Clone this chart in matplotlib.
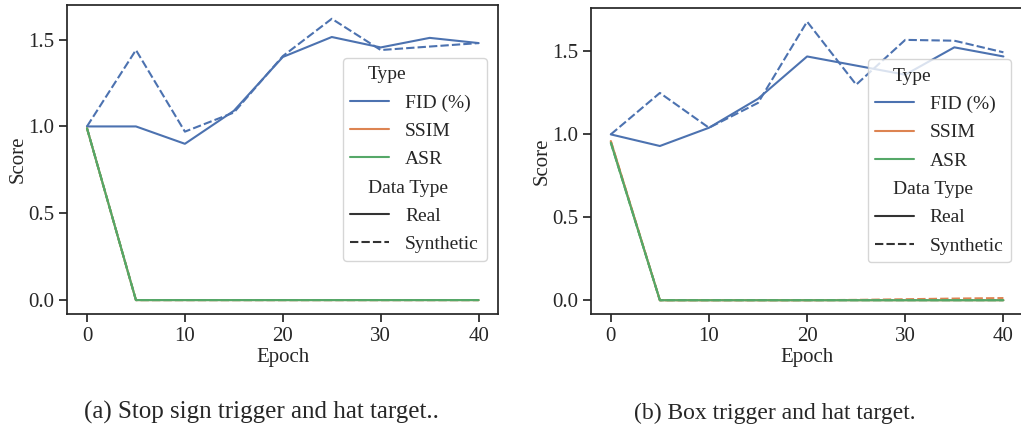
import numpy as np
import pandas as pd
import seaborn as sns
from matplotlib import pyplot as plt

epochs = [0, 5, 10, 15, 20, 25, 30, 35, 40]

# (a) stop sign trigger, hat target
fid_real_a = [1.00, 1.00, 0.90, 1.09, 1.40, 1.515, 1.455, 1.51, 1.48]
fid_syn_a = [1.00, 1.44, 0.97, 1.08, 1.405, 1.62, 1.44, 1.46, 1.48]
ssim_real_a = [0.99, 0.0, 0.0, 0.0, 0.0, 0.0, 0.0, 0.0, 0.0]
ssim_syn_a = [0.99, 0.0, 0.0, 0.0, 0.0, 0.0, 0.0, 0.0, 0.0]
asr_real_a = [0.99, 0.0, 0.0, 0.0, 0.0, 0.0, 0.0, 0.0, 0.0]
asr_syn_a = [0.99, 0.0, 0.0, 0.0, 0.0, 0.0, 0.0, 0.0, 0.0]

# (b) box trigger, hat target
fid_real_b = [1.00, 0.93, 1.04, 1.215, 1.47, 1.415, 1.36, 1.525, 1.47]
fid_syn_b = [1.00, 1.25, 1.04, 1.19, 1.68, 1.30, 1.57, 1.565, 1.495]
ssim_real_b = [0.96, 0.0, 0.0, 0.0, 0.0, 0.0, 0.0, 0.0, 0.0]
ssim_syn_b = [0.96, 0.0, 0.0, 0.0, 0.0, 0.002, 0.006, 0.01, 0.013]
asr_real_b = [0.95, 0.0, 0.0, 0.0, 0.0, 0.0, 0.0, 0.0, 0.0]
asr_syn_b = [0.95, 0.0, 0.0, 0.0, 0.0, 0.0, 0.0, 0.0, 0.0]

captions = ['(a) Stop sign trigger and hat target..', '(b) Box trigger and hat target.']
subtitles = ['Type', 'Data Type']


def build_frame(series):
    '''Turns a dict of (type, data type) -> values into a long table for seaborn'''
    rows = []
    for (kind, dtype), values in series.items():
        for e, v in zip(epochs, values):
            rows.append({'Epoch': e, 'Score': v, 'Type': kind, 'Data Type': dtype})
    return pd.DataFrame(rows)


frame_a = build_frame({
    ('FID (%)', 'Real'): fid_real_a, ('FID (%)', 'Synthetic'): fid_syn_a,
    ('SSIM', 'Real'): ssim_real_a, ('SSIM', 'Synthetic'): ssim_syn_a,
    ('ASR', 'Real'): asr_real_a, ('ASR', 'Synthetic'): asr_syn_a,
})
frame_b = build_frame({
    ('FID (%)', 'Real'): fid_real_b, ('FID (%)', 'Synthetic'): fid_syn_b,
    ('SSIM', 'Real'): ssim_real_b, ('SSIM', 'Synthetic'): ssim_syn_b,
    ('ASR', 'Real'): asr_real_b, ('ASR', 'Synthetic'): asr_syn_b,
})

sns.set_theme(style='ticks', palette='deep')
plt.rcParams['font.family'] = ['Liberation Serif', 'DejaVu Serif']
plt.rcParams['mathtext.fontset'] = 'stix'

fig = plt.figure(figsize=(10.21, 4.28), dpi=100)
ax_a = fig.add_axes([0.066, 0.266, 0.422, 0.723])
ax_b = fig.add_axes([0.579, 0.266, 0.423, 0.716])

caption_x = [0.2557, 0.759]
caption_size = [18, 17]
legends = []

for ax, frame, i in [(ax_a, frame_a, 0), (ax_b, frame_b, 1)]:
    sns.lineplot(data=frame, x='Epoch', y='Score', hue='Type', style='Data Type', ax=ax,
                 linewidth=1.5)
    ax.set_xticks([0, 10, 20, 30, 40])
    ax.set_yticks([0.0, 0.5, 1.0, 1.5])
    ax.tick_params(labelsize=15)
    ax.set_xlabel('Epoch', fontsize=15, labelpad=1)
    ax.set_ylabel('Score', fontsize=15, labelpad=0.5)
    handles, labels = ax.get_legend_handles_labels()
    # sub-titles are drawn separately so they can sit left of the entry labels
    labels = ['' if l in subtitles else l for l in labels]
    leg = ax.legend(handles, labels, loc='center right', fontsize=14, framealpha=0.8,
                    borderaxespad=0.6, labelspacing=0.55)
    legends.append(leg)
    fig.text(caption_x[i], 0.022, captions[i], ha='center', va='baseline',
             fontsize=caption_size[i])

fig.canvas.draw()
W, H = fig.canvas.get_width_height()
for leg in legends:
    texts = leg.get_texts()
    frame_box = leg.get_frame().get_window_extent()
    for idx, name in [(0, 'Type'), (4, 'Data Type')]:
        below = texts[idx + 1].get_window_extent()
        below2 = texts[idx + 2].get_window_extent()
        y = below.y0 + (below.y0 - below2.y0)
        fig.text((frame_box.x0 + 25) / W, y / H, name, fontsize=14,
                 ha='left', va='bottom', zorder=10)

plt.savefig('out.png')
